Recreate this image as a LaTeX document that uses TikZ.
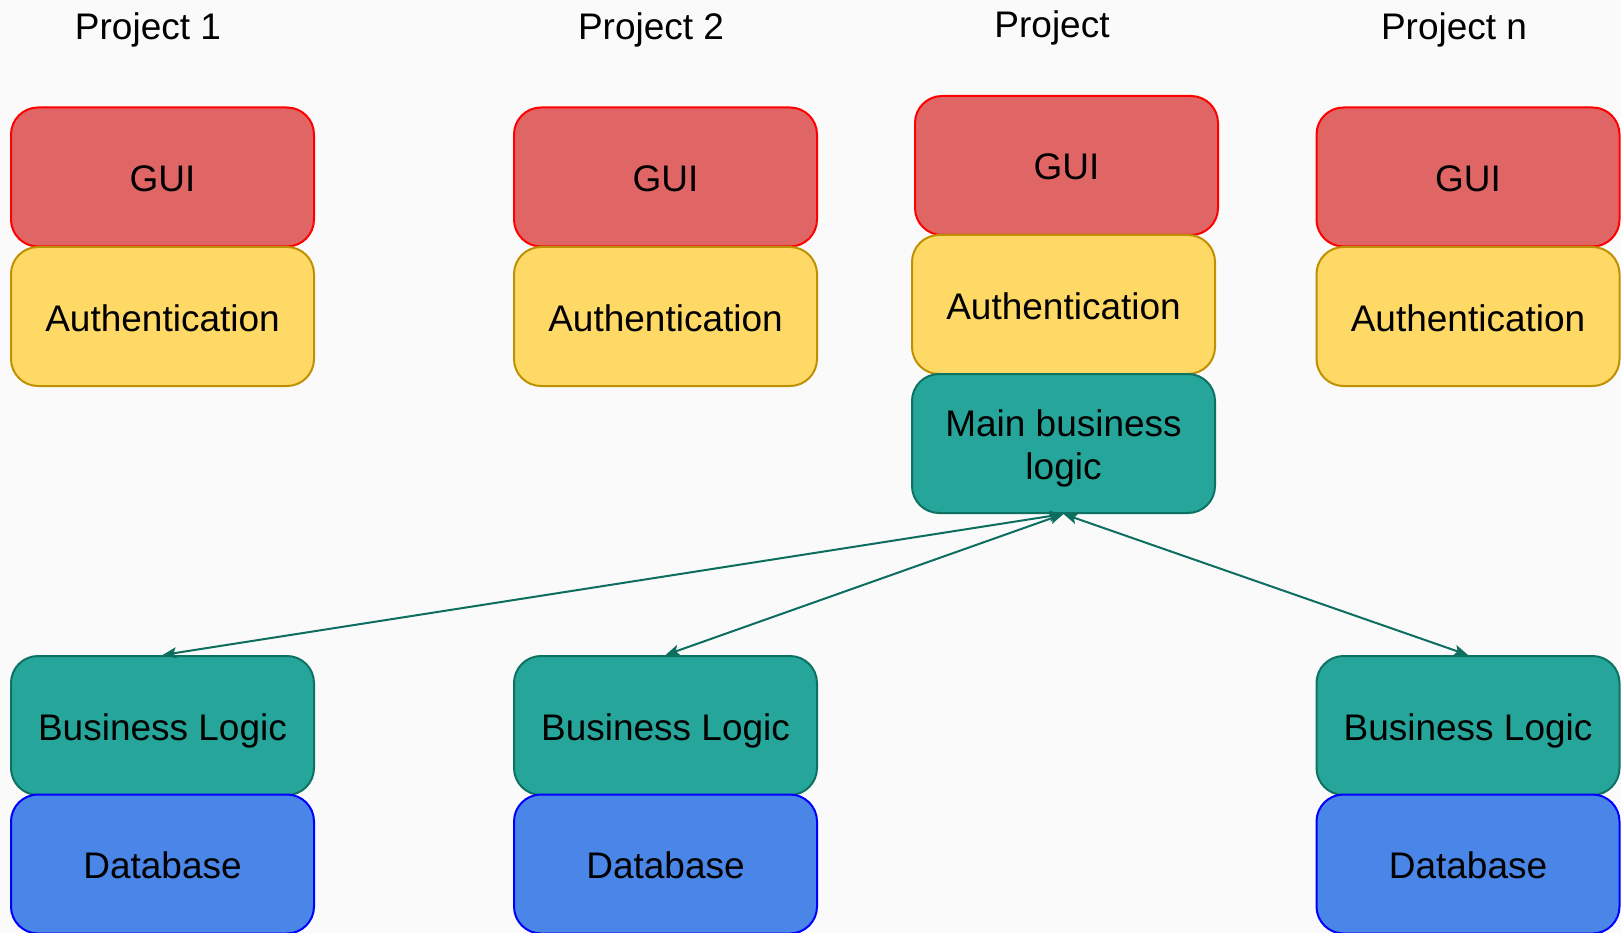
\documentclass[tikz,border=0pt]{standalone}
\usepackage{fontspec}
\setmainfont{Liberation Sans}
\usetikzlibrary{arrows.meta}

\definecolor{bgcol}{HTML}{FAFAFA}
\definecolor{guifill}{HTML}{E06666}
\definecolor{guiline}{HTML}{FF0000}
\definecolor{authfill}{HTML}{FFD966}
\definecolor{authline}{HTML}{BF9000}
\definecolor{logicfill}{HTML}{26A69A}
\definecolor{logicline}{HTML}{0E7263}
\definecolor{dbfill}{HTML}{4A86E8}
\definecolor{dbline}{HTML}{0000FF}
\definecolor{linkcol}{HTML}{0D6E60}

\tikzset{
  layer/.style={rectangle, rounded corners=27pt, line width=2pt,
    minimum width=303pt, minimum height=139pt, inner sep=0pt,
    text height=29pt, text depth=0pt,
    align=center, font=\fontsize{37}{42.3}\selectfont},
  twolines/.style={text height=71.3pt},
  guibox/.style={layer, fill=guifill, draw=guiline},
  authbox/.style={layer, fill=authfill, draw=authline},
  logicbox/.style={layer, fill=logicfill, draw=logicline},
  dbbox/.style={layer, fill=dbfill, draw=dbline},
  title/.style={font=\fontsize{37}{44}\selectfont, inner sep=0pt, text depth=0pt},
  link/.style={draw=linkcol, line width=2pt,
    {Stealth[length=14pt,width=11pt,inset=3pt]}-{Stealth[length=14pt,width=11pt,inset=3pt]}}
}

\begin{document}
\begin{tikzpicture}[x=1pt,y=-1pt]
  \fill[bgcol] (0,0) rectangle (1621,933);
  \useasboundingbox (0,0) rectangle (1621,933);

  % column titles
  \node[title] (t1) at (148,26) {Project 1};
  \node[title] (t2) at (651,26) {Project 2};
  \node[title] (tm) at (1052,24) {Project};
  \node[title] (tn) at (1454,26) {Project n};

  % Project 1
  \node[guibox]  (gui1)  at (162.5,177)   {GUI};
  \node[authbox] (auth1) at (162.5,316.5) {Authentication};
  \node[logicbox] (bl1)  at (162.5,725.5) {Business Logic};
  \node[dbbox]   (db1)   at (162.5,864)   {Database};

  % Project 2
  \node[guibox]  (gui2)  at (665.5,177)   {GUI};
  \node[authbox] (auth2) at (665.5,316.5) {Authentication};
  \node[logicbox] (bl2)  at (665.5,725.5) {Business Logic};
  \node[dbbox]   (db2)   at (665.5,864)   {Database};

  % Project n
  \node[guibox]  (guin)  at (1468,177)   {GUI};
  \node[authbox] (authn) at (1468,316.5) {Authentication};
  \node[logicbox] (bln)  at (1468,725.5) {Business Logic};
  \node[dbbox]   (dbn)   at (1468,864)   {Database};

  % Central project
  \node[guibox]  (guim)  at (1066.5,165.5) {GUI};
  \node[authbox] (authm) at (1063.5,304.5) {Authentication};
  \node[logicbox, twolines] (main) at (1063.5,443.5) {Main business\\logic};

  % links to the business logic of each project
  \draw[link] (main.south) -- (bl1.north);
  \draw[link] (main.south) -- (bl2.north);
  \draw[link] (main.south) -- (bln.north);
\end{tikzpicture}
\end{document}
